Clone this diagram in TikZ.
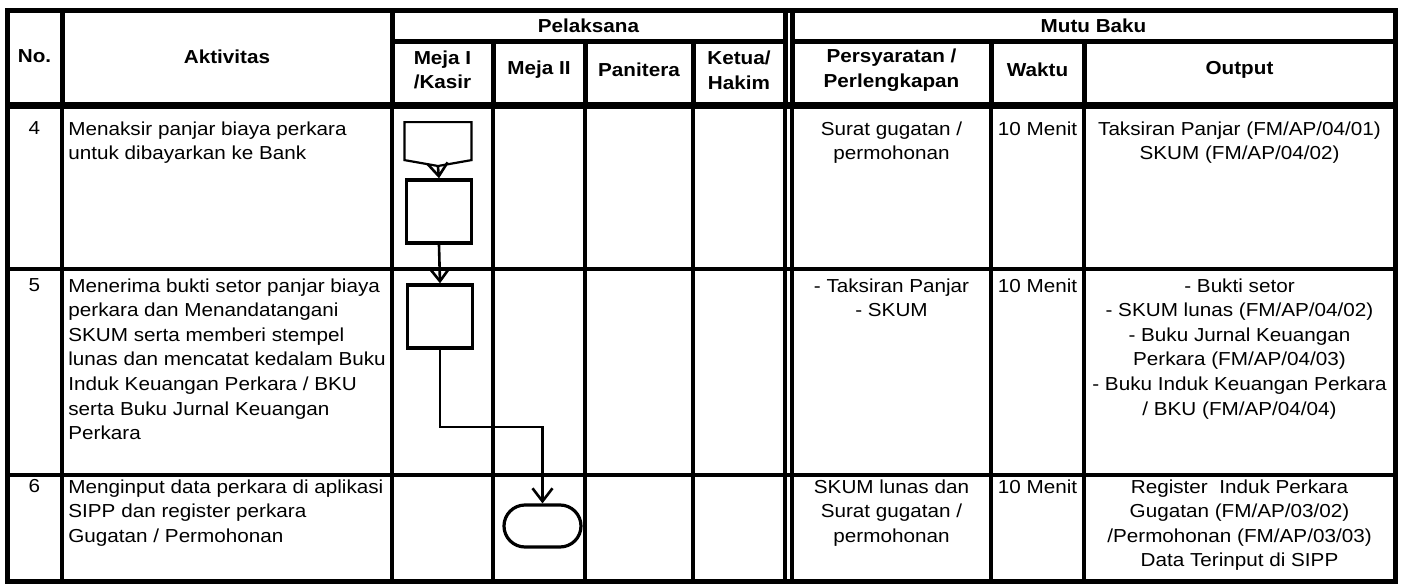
\documentclass[tikz,border=0pt]{standalone}
\usepackage{fontspec}
\setmainfont{Liberation Sans}[FakeStretch=1.1]
\usetikzlibrary{positioning,calc,shapes.symbols,shapes.misc,arrows.meta}

\tikzset{
  tebal/.style={line width=2.5pt},
  tipis/.style={line width=1.7pt},
  judul/.style={font=\bfseries\fontsize{9.4}{12.3}\selectfont, align=center, inner sep=0pt},
  isi/.style={font=\fontsize{9.4}{12.3}\selectfont, inner sep=0pt},
  proses/.style={draw, line width=1.7pt, minimum width=32.5pt, minimum height=31.5pt, inner sep=0pt},
  konektor/.style={draw, line width=1.1pt, shape=signal, signal to=south, signal pointer angle=160,
    minimum width=33.5pt, minimum height=19pt, inner sep=0pt},
  terminal/.style={draw, line width=1.6pt, rounded rectangle, minimum width=38.5pt, minimum height=21pt, inner sep=0pt},
  alur/.style={line width=1.3pt, -{Straight Barb[length=6.5pt,width=10pt]}}
}

\begin{document}
\begin{tikzpicture}[x=0.5pt,y=-0.5pt]
\useasboundingbox (0,0) rectangle (1405,584);

% garis tabel
\foreach \x in {62,392,785,792}{
  \draw[tebal] (\x,10)--(\x,105);
  \draw[tipis] (\x,105)--(\x,581);
}
\foreach \x in {493,585,693,991,1084}{
  \draw[tebal] (\x,41)--(\x,105);
  \draw[tipis] (\x,105)--(\x,581);
}
\draw[tebal] (392,41)--(785,41);
\draw[tebal] (792,41)--(1395,41);
\draw[tipis] (7,269)--(1395,269);
\draw[tipis] (7,475)--(1395,475);
\draw[line width=3.5pt] (7,105)--(1395,105);
\draw[tebal] (7,10) rectangle (1395,581);

% kepala tabel
\node[judul] (hno) at (34.5,56.5) {No.};
\node[judul] (hakt) at (227,56.5) {Aktivitas};
\node[judul] (hpel) at (588.5,26) {Pelaksana};
\node[judul] (hmeja1) at (442.5,70) {Meja I\\/Kasir};
\node[judul] (hmeja2) at (539,70) {Meja II};
\node[judul] (hpan) at (639,70) {Panitera};
\node[judul] (hket) at (739,70) {Ketua/\\Hakim};
\node[judul] (hmutu) at (1093.5,26) {Mutu Baku};
\node[judul] (hsyarat) at (891.5,70) {Persyaratan /\\Perlengkapan};
\node[judul] (hwaktu) at (1037.5,70) {Waktu};
\node[judul] (hout) at (1239.5,70) {Output};

% baris 4
\node[isi, anchor=north] (no4) at (34.5,121) {4};
\node[isi, anchor=north west, align=left] (akt4) at (68,121) {Menaksir panjar biaya perkara\\untuk dibayarkan ke Bank};
\node[isi, anchor=north, align=center] (syarat4) at (891.5,121) {Surat gugatan /\\permohonan};
\node[isi, anchor=north] (waktu4) at (1037.5,121) {10 Menit};
\node[isi, anchor=north, align=center] (out4) at (1239.5,121) {Taksiran Panjar (FM/AP/04/01)\\SKUM (FM/AP/04/02)};

% baris 5
\node[isi, anchor=north] (no5) at (34.5,278) {5};
\node[isi, anchor=north west, align=left] (akt5) at (68,278) {Menerima bukti setor panjar biaya\\perkara dan Menandatangani\\SKUM serta memberi stempel\\lunas dan mencatat kedalam Buku\\Induk Keuangan Perkara / BKU\\serta Buku Jurnal Keuangan\\Perkara};
\node[isi, anchor=north, align=center] (syarat5) at (891.5,278) {- Taksiran Panjar\\- SKUM};
\node[isi, anchor=north] (waktu5) at (1037.5,278) {10 Menit};
\node[isi, anchor=north, align=center] (out5) at (1239.5,278) {- Bukti setor\\- SKUM lunas (FM/AP/04/02)\\- Buku Jurnal Keuangan\\Perkara (FM/AP/04/03)\\- Buku Induk Keuangan Perkara\\/ BKU (FM/AP/04/04)};

% baris 6
\node[isi, anchor=north] (no6) at (34.5,479) {6};
\node[isi, anchor=north west, align=left] (akt6) at (68,479) {Menginput data perkara di aplikasi\\SIPP dan register perkara\\Gugatan / Permohonan};
\node[isi, anchor=north, align=center] (syarat6) at (891.5,479) {SKUM lunas dan\\Surat gugatan /\\permohonan};
\node[isi, anchor=north] (waktu6) at (1037.5,479) {10 Menit};
\node[isi, anchor=north, align=center] (out6) at (1239.5,479) {Register~ Induk Perkara\\Gugatan (FM/AP/03/02)\\/Permohonan (FM/AP/03/03)\\Data Terinput di SIPP};

% bagan alur
\node[konektor, anchor=north] (masuk) at (438,121) {};
\node[proses] (bayar) at (439,211.5) {};
\node[proses] (setor) at (440,316.5) {};
\node[terminal] (input) at (542.5,526) {};
\coordinate (belok) at (542.5,427);
\draw[alur] (masuk.south) -- (bayar.north);
\draw[alur] (bayar.south) -- (setor.north);
\draw[alur] (setor.south) |- (belok) -- (input.north);
\end{tikzpicture}
\end{document}
